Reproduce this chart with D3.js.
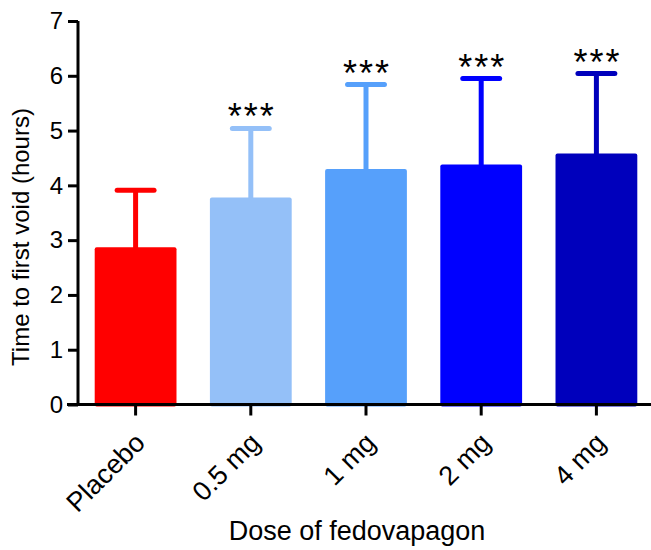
<!DOCTYPE html>
<html>
<head>
<meta charset="utf-8">
<script src="https://cdn.jsdelivr.net/npm/d3@7"></script>
<style>
    body { margin: 0; background: #fff; }
    svg text { font-family: "Liberation Sans", Arial, sans-serif; }
</style>
</head>
<body>
<svg id="chart" width="651" height="550"></svg>
<script>
// doses and measured means / upper error (hours)
const doses = ["Placebo", "0.5 mg", "1 mg", "2 mg", "4 mg"];
const means = [2.87, 3.78, 4.30, 4.38, 4.58];
const upper = [3.91, 5.04, 5.84, 5.95, 6.04];
const stars = ["", "***", "***", "***", "***"];
const colors = ["#ff0000", "#94c0f8", "#56a0fb", "#0000ff", "#0000bc"];
const yTicks = [0, 1, 2, 3, 4, 5, 6, 7];

// plot area
const margin = {top: 21, left: 78, bottom: 145, right: 0};
const width = 654, height = 550;

const svg = d3.select("#chart");

const x = d3.scaleBand()
    .domain(doses)
    .range([margin.left, width])
    .paddingInner(0.29)
    .paddingOuter(0.145);

const y = d3.scaleLinear()
    .domain([0, 7])
    .range([404.5, margin.top]);

// bars
svg.selectAll(".bar")
    .data(doses)
    .enter().append("rect")
    .attr("class", "bar")
    .attr("x", function(d) { return x(d); })
    .attr("width", x.bandwidth())
    .attr("y", function(d, i) { return y(means[i]); })
    .attr("height", function(d, i) { return y(0) - y(means[i]) + 2; })
    .attr("rx", 2)
    .attr("fill", function(d, i) { return colors[i]; });

// error bars (upper only)
svg.selectAll(".err")
    .data(doses)
    .enter().append("line")
    .attr("class", "err")
    .attr("x1", function(d) { return x(d) + x.bandwidth() / 2; })
    .attr("x2", function(d) { return x(d) + x.bandwidth() / 2; })
    .attr("y1", function(d, i) { return y(means[i]) + 1; })
    .attr("y2", function(d, i) { return y(upper[i]); })
    .attr("stroke", function(d, i) { return colors[i]; })
    .attr("stroke-width", 5);

svg.selectAll(".cap")
    .data(doses)
    .enter().append("line")
    .attr("class", "cap")
    .attr("x1", function(d) { return x(d) + x.bandwidth() / 4 + 2; })
    .attr("x2", function(d) { return x(d) + x.bandwidth() * 3 / 4 - 2; })
    .attr("y1", function(d, i) { return y(upper[i]); })
    .attr("y2", function(d, i) { return y(upper[i]); })
    .attr("stroke", function(d, i) { return colors[i]; })
    .attr("stroke-width", 5)
    .attr("stroke-linecap", "round");

// significance stars
svg.selectAll(".star")
    .data(doses)
    .enter().append("text")
    .attr("class", "star")
    .attr("x", function(d) { return x(d) + x.bandwidth() / 2 + 1; })
    .attr("y", function(d, i) { return y(upper[i]) + 1; })
    .attr("text-anchor", "middle")
    .attr("font-size", 36)
    .attr("letter-spacing", 2)
    .attr("fill", "#000")
    .text(function(d, i) { return stars[i]; });

// y axis
const yAxis = svg.append("g")
    .attr("transform", "translate(" + margin.left + ",0)")
    .call(d3.axisLeft(y).tickValues(yTicks).tickSize(10).tickPadding(5).tickFormat(d3.format("d")));
yAxis.select(".domain").attr("d", "M0," + y(7) + "V" + y(0))
    .attr("stroke", "#000").attr("stroke-width", 3);
yAxis.selectAll(".tick line").attr("stroke", "#000").attr("stroke-width", 3);
yAxis.selectAll(".tick text").attr("font-size", 24).attr("fill", "#000")
    .attr("font-family", "Liberation Sans, Arial, sans-serif");

// x axis
const xAxis = svg.append("g")
    .attr("transform", "translate(0," + y(0) + ")")
    .call(d3.axisBottom(x).tickSize(11).tickSizeOuter(0));
xAxis.select(".domain").attr("d", "M" + (margin.left - 11) + ",0H651")
    .attr("stroke", "#000").attr("stroke-width", 3);
xAxis.selectAll(".tick line").attr("stroke", "#000").attr("stroke-width", 3);
xAxis.selectAll(".tick text")
    .attr("font-size", 27).attr("fill", "#000")
    .attr("font-family", "Liberation Sans, Arial, sans-serif")
    .attr("text-anchor", "end")
    .attr("dy", null)
    .attr("transform", "translate(11,40) rotate(-45)")
    .attr("y", 0).attr("x", 0);

// axis titles
svg.append("text")
    .attr("transform", "translate(29,237) rotate(-90)")
    .attr("text-anchor", "middle")
    .attr("font-size", 24)
    .text("Time to first void (hours)");

svg.append("text")
    .attr("x", 357)
    .attr("y", 540)
    .attr("text-anchor", "middle")
    .attr("font-size", 27)
    .text("Dose of fedovapagon");
</script>
</body>
</html>
